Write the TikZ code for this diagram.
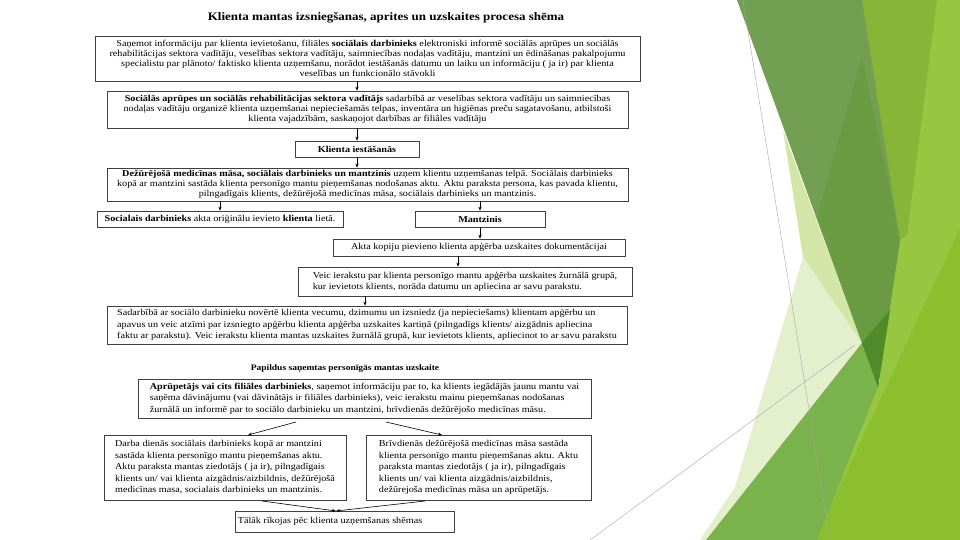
\documentclass[tikz,border=0pt]{standalone}
\usepackage{fontspec}
\setmainfont{Liberation Serif}[FakeStretch=1.13]
\usetikzlibrary{arrows.meta}
\definecolor{gLight}{HTML}{97C640}
\definecolor{gStrip}{HTML}{86B537}
\definecolor{gYellow}{HTML}{8CBF2E}
\definecolor{gMed}{HTML}{7AB34B}
\definecolor{gPale}{HTML}{D4E6A7}
\definecolor{gVPale}{HTML}{E4F0CD}
\definecolor{gBand}{HTML}{739F52}
\definecolor{gDark}{HTML}{6A9A41}
\definecolor{gSpot}{HTML}{4F8C29}
\begin{document}
\begin{tikzpicture}[x=1pt,y=-1pt,
  box/.style={draw=black!75,line width=0.7pt,inner sep=2pt,fill=white},
  cbox/.style={box,align=center,font=\fontsize{9}{10}\selectfont},
  lbox/.style={box,align=left,font=\fontsize{9}{11.5}\selectfont},
  arr/.style={-{Stealth[length=4pt,width=3.2pt]},line width=0.6pt,black},
  thinline/.style={draw=black!35,line width=0.4pt}]
\useasboundingbox (0,0) rectangle (960,540);
\fill[white] (0,0) rectangle (960,540);
% background facets
\fill[gLight] (862,0) -- (960,0) -- (960,540) -- (800,540) -- (880,380) -- cycle;
\fill[gStrip] (862,0) -- (937,0) -- (907,235) -- (900,240) -- cycle;
\fill[gYellow] (960,228) -- (960,540) -- (815,540) -- cycle;
\fill[gVPale] (803,257) -- (862,343) -- (706,540) -- (700,540) -- (735,487) -- cycle;
\fill[gMed] (706,540) -- (862,343) -- (890,310) -- (878,387) -- (817,540) -- cycle;
\fill[gPale] (783,130) -- (862,343) -- (803,257) -- cycle;
\fill[gBand] (737,0) -- (862,0) -- (900,240) -- (878,387) -- cycle;
\fill[gDark] (862,57) -- (900,240) -- (878,387) -- (817,217) -- cycle;
\fill[gSpot] (862,343) -- (890,310) -- (878,387) -- cycle;
\draw[thinline] (743,0) -- (830,540);
\draw[thinline] (590,540) -- (855,345);

% title
\node[font=\fontsize{11.5}{13}\selectfont\bfseries] (title) at (386,18) {Klienta mantas izsniegšanas, aprites un uzskaites procesa shēma};

\node[cbox,minimum width=545pt,minimum height=45pt] (b1) at (367.5,58.5) {Saņemot informāciju par klienta ievietošanu, filiāles \textbf{sociālais darbinieks} elektroniski informē sociālās aprūpes un sociālās\\rehabilitācijas sektora vadītāju, veselības sektora vadītāju, saimniecības nodaļas vadītāju, mantzini un ēdināšanas pakalpojumu\\specialistu par plānoto/ faktisko klienta uzņemšanu, norādot iestāšanās datumu un laiku un informāciju ( ja ir) par klienta\\veselības un funkcionālo stāvokli};

\node[cbox,minimum width=521pt,minimum height=37pt] (b2) at (367.5,109.5) {\textbf{Sociālās aprūpes un sociālās rehabilitācijas sektora vadītājs} sadarbībā ar veselības sektora vadītāju un saimniecības\\nodaļas vadītāju organizē klienta uzņemšanai nepieciešamās telpas, inventāra un higiēnas preču sagatavošanu, atbilstoši\\klienta vajadzībām, saskaņojot darbības ar filiāles vadītāju};

\node[cbox,minimum width=124pt,minimum height=16pt] (b3) at (357,149) {\textbf{Klienta iestāšanās}};

\node[cbox,minimum width=521pt,minimum height=33pt] (b4) at (367.5,184.5) {\textbf{Dežūrējošā medicīnas māsa, sociālais darbinieks un mantzinis} uzņem klientu uzņemšanas telpā. Sociālais darbinieks\\kopā ar mantzini sastāda klienta personīgo mantu pieņemšanas nodošanas aktu. Aktu paraksta persona, kas pavada klientu,\\pilngadīgais klients, dežūrējošā medicīnas māsa, sociālais darbinieks un mantzinis.};

\node[cbox,minimum width=246pt,minimum height=16pt] (b5) at (220,219) {\textbf{Socialais darbinieks} akta oriģinālu ievieto \textbf{klienta} lietā.};

\node[cbox,minimum width=130pt,minimum height=16pt] (b6) at (480,219) {\textbf{Mantzinis}};

\node[cbox,minimum width=292pt,minimum height=17pt] (b7) at (479,247.5) {Akta kopiju pievieno klienta apģērba uzskaites dokumentācijai};

\node[lbox,minimum width=334pt,minimum height=29pt] (b8) at (465,281.5) {Veic ierakstu par klienta personīgo mantu apģērba uzskaites žurnālā grupā,\\kur ievietots klients, norāda datumu un apliecina ar savu parakstu.};

\node[lbox,minimum width=520pt,minimum height=38pt] (b9) at (367,325) {Sadarbībā ar sociālo darbinieku novērtē klienta vecumu, dzimumu un izsniedz (ja nepieciešams) klientam apģērbu un\\apavus un veic atzīmi par izsniegto apģērbu klienta apģērba uzskaites kartiņā (pilngadīgs klients/ aizgādnis apliecina\\faktu ar parakstu). Veic ierakstu klienta mantas uzskaites žurnālā grupā, kur ievietots klients, apliecinot to ar savu parakstu};

\node[font=\fontsize{8.4}{11}\selectfont\bfseries] (head) at (345,369) {Papildus saņemtas personīgās mantas uzskaite};

\node[lbox,minimum width=453pt,minimum height=39pt] (b11) at (364.5,398.5) {\textbf{Aprūpetājs vai cits filiāles darbinieks}, saņemot informāciju par to, ka klients iegādājās jaunu mantu vai\\saņēma dāvinājumu (vai dāvinātājs ir filiāles darbinieks), veic ierakstu mainu pieņemšanas nodošanas\\žurnālā un informē par to sociālo darbinieku un mantzini, brīvdienās dežūrējošo medicīnas māsu.};

\node[lbox,minimum width=242pt,minimum height=65pt] (b12) at (225,467.5) {Darba dienās sociālais darbinieks kopā ar mantzini\\sastāda klienta personīgo mantu pieņemšanas aktu.\\Aktu paraksta mantas ziedotājs ( ja ir), pilngadīgais\\klients un/ vai klienta aizgādnis/aizbildnis, dežūrējošā\\medicīnas masa, socialais darbinieks un mantzinis.};

\node[lbox,minimum width=225pt,minimum height=65pt] (b13) at (478.5,467.5) {Brīvdienās dežūrējošā medicīnas māsa sastāda\\klienta personīgo mantu pieņemšanas aktu. Aktu\\paraksta mantas ziedotājs ( ja ir), pilngadīgais\\klients un/ vai klienta aizgādnis/aizbildnis,\\dežūrejoša medicīnas māsa un aprūpetājs.};

\node[lbox,minimum width=210pt,minimum height=21pt] (b14) at (345,521.5) {Tālāk rīkojas pēc klienta uzņemšanas shēmas\hspace*{30pt}};

% connectors
\coordinate (c78) at (458,0);
\coordinate (c89) at (365,0);
\coordinate (p1) at (296,422);
\coordinate (p1e) at (248,435);
\coordinate (p2) at (386,422);
\coordinate (p2e) at (442,435);
\coordinate (q1) at (262,501);
\coordinate (q2) at (425,501);
\coordinate (qe) at (336,511);
\draw[arr] (b3.north |- b1.south) -- (b3.north |- b2.north);
\draw[arr] (b3.north |- b2.south) -- (b3.north);
\draw[arr] (b3.south) -- (b3.south |- b4.north);
\draw[arr] (b5.north |- b4.south) -- (b5.north);
\draw[arr] (b6.north |- b4.south) -- (b6.north);
\draw[arr] (b6.south) -- (b6.south |- b7.north);
\draw[arr] (c78 |- b7.south) -- (c78 |- b8.north);
\draw[arr] (c89 |- b8.south) -- (c89 |- b9.north);
\draw[arr] (p1) -- (p1e);
\draw[arr] (p2) -- (p2e);
\draw[arr] (q1) -- (qe);
\draw[arr] (q2) -- (qe);
\end{tikzpicture}
\end{document}
